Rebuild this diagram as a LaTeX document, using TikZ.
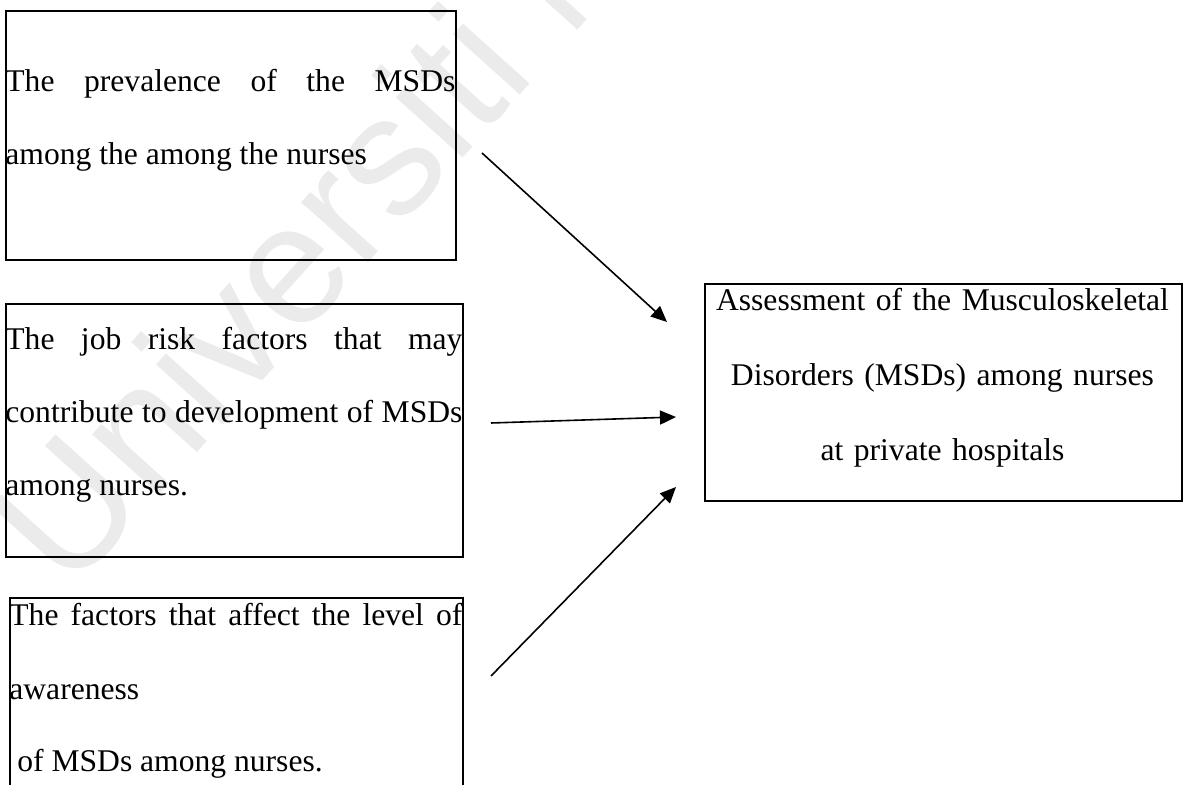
\documentclass[tikz,border=0pt]{standalone}
\usepackage{fontspec}
\setmainfont{Liberation Serif}
\newfontfamily\wmfont{Liberation Sans}
\usetikzlibrary{arrows.meta}
\definecolor{wmgray}{HTML}{EBEBEB}
\tolerance=10000
\hbadness=10000

\begin{document}
\begin{tikzpicture}[x=0.5pt, y=-0.5pt,
	box/.style={draw, line width=0.9pt, inner sep=0pt, anchor=north west},
	txt/.style={inner sep=0pt, anchor=base west, align=justify, font=\fontsize{15.8}{36.5}\selectfont},
	arr/.style={-{Triangle[length=8pt, width=7pt]}, line width=0.8pt}]
	\useasboundingbox (0,0) rectangle (1189,785);
	\clip (0,0) rectangle (1189,785);
	
	% watermark
	\draw (65,600) node[anchor=base west, rotate=48, text=wmgray, font=\wmfont\fontsize{85}{85}\selectfont] (wm) {Universiti Malaya};
	
	% draw boxes
	\draw (5,10) node[box, minimum width=225pt, minimum height=124.5pt] (prev) {};
	\draw (5,303) node[box, minimum width=228.5pt, minimum height=126.5pt] (risk) {};
	\draw (9,597) node[box, minimum width=226.5pt, minimum height=150pt] (aware) {};
	\draw (704,283) node[box, minimum width=238.5pt, minimum height=108.5pt] (msd) {};
	
	% draw box texts
	\draw (5,92) node[txt, text width=225pt] (prevtxt) {The prevalence of the MSDs\linebreak among the among the nurses};
	\draw (5,350) node[txt, text width=228.5pt] (risktxt) {The job risk factors that may\linebreak contribute to development of MSDs\linebreak among nurses.};
	\draw (9,626) node[txt, text width=226.5pt] (awaretxt) {The factors that affect the level of\linebreak awareness\\\mbox{} of MSDs among nurses.};
	\draw (942.5,311) node[txt, anchor=base, align=center, text width=238.5pt, font=\fontsize{15.8}{37.5}\selectfont] (msdtxt) {Assessment of the Musculoskeletal\\ Disorders (MSDs) among nurses\\ at private hospitals};
	
	% draw arrows
	\coordinate (a1s) at (482,153);
	\coordinate (a1e) at (667,322);
	\coordinate (a2s) at (491,423);
	\coordinate (a2e) at (676,417);
	\coordinate (a3s) at (491,676);
	\coordinate (a3e) at (676,487);
	\draw[arr] (a1s) -- (a1e);
	\draw[arr] (a2s) -- (a2e);
	\draw[arr] (a3s) -- (a3e);
\end{tikzpicture}
\end{document}
